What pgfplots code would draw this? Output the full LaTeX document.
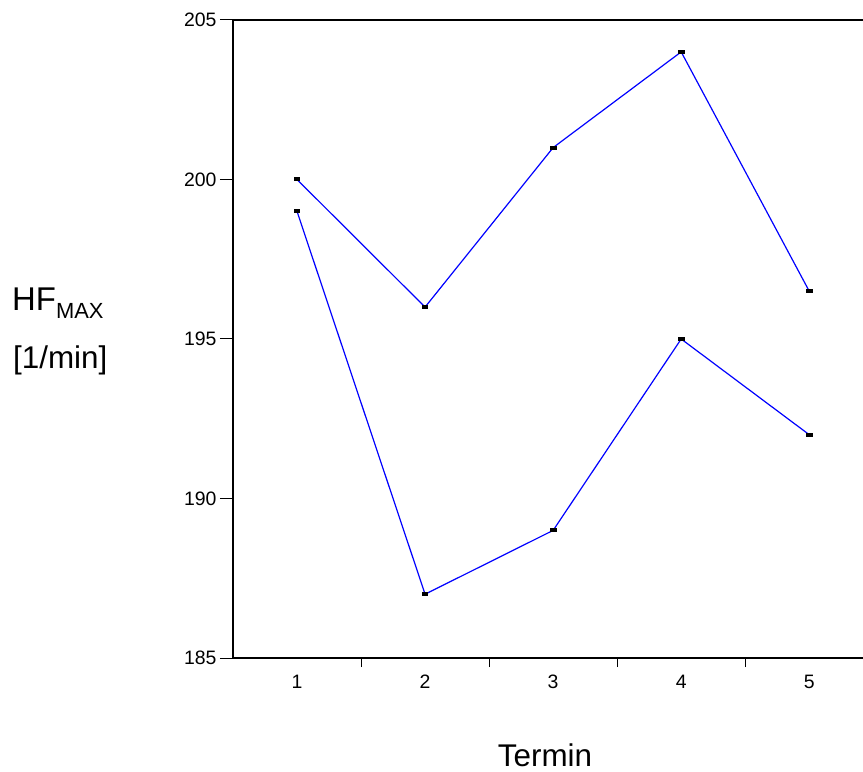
\documentclass[border=0pt]{standalone}
\usepackage{pgfplots}
\pgfplotsset{compat=1.18}
\usepackage{fontspec}
\setmainfont{Liberation Sans}
\begin{document}
\begin{tikzpicture}[x=1bp,y=1bp]
\begin{axis}[
  scale only axis,
  width=630bp, height=638bp,
  xmin=0.5, xmax=5.42,
  ymin=185, ymax=205,
  axis x line*=bottom,
  axis y line*=left,
  axis line style={line width=1.1bp, -},
  ytick=\empty,
  extra y ticks={185,190,195,200,205},
  extra y tick style={major tick length=13bp},
  xtick={1.5,2.5,3.5,4.5},
  xticklabels={},
  extra x ticks={1,2,3,4,5},
  extra x tick labels={1,2,3,4,5},
  extra x tick style={major tick length=0pt},
  tick align=outside,
  major tick length=9bp,
  tick style={black, line width=1bp},
  ticklabel style={font=\fontsize{19.5}{23}\selectfont},
  xticklabel style={yshift=-13.5bp},
  yticklabel style={xshift=0bp},
  /pgf/number format/assume math mode=true,
  clip=false,
]
\addplot[blue, line width=1.2bp, mark=square*, mark size=1.4bp,
  mark options={black, fill=black, xscale=2, solid}]
  coordinates {(1,200) (2,196) (3,201) (4,204) (5,196.5)};
\addplot[blue, line width=1.2bp, mark=square*, mark size=1.4bp,
  mark options={black, fill=black, xscale=2, solid}]
  coordinates {(1,199) (2,187) (3,189) (4,195) (5,192)};
\draw[black, line width=1.1bp] (rel axis cs:0,1) -- (rel axis cs:1,1);
\end{axis}
\node[anchor=base west, font=\fontsize{33}{40}\selectfont, inner sep=0pt]
  at ([xshift=-221bp, yshift=347bp]current axis.south west) {HF\raisebox{-8bp}{\fontsize{22}{26}\selectfont MAX}};
\node[anchor=base west, font=\fontsize{31.5}{38}\selectfont, inner sep=0pt]
  at ([xshift=-220bp, yshift=289bp]current axis.south west) {[1/min]};
\node[anchor=base, font=\fontsize{31.5}{38}\selectfont, inner sep=0pt]
  at ([xshift=312bp, yshift=-108bp]current axis.south west) {Termin};
\pgfresetboundingbox
\useasboundingbox ([xshift=-233bp, yshift=-114bp]current axis.south west) rectangle ++(863bp,772bp);
\end{tikzpicture}
\end{document}
